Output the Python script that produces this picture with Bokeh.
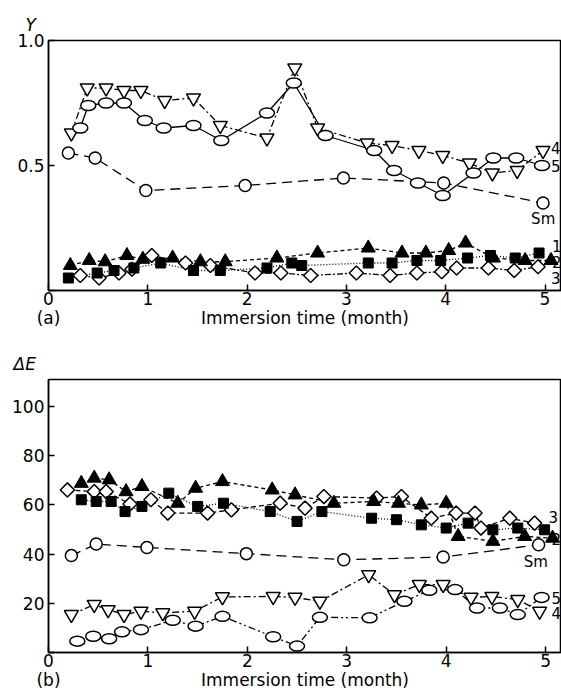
from bokeh.plotting import figure
from bokeh.layouts import column
from bokeh.models import Label, FixedTicker, Range1d, LinearAxis
from bokeh.embed import file_html
from bokeh.resources import INLINE

# ---------------- data: panel (a) Y ----------------
a_sm_t = [0.2, 0.47, 0.98, 1.98, 2.97, 3.98, 4.98]
a_sm_y = [0.55, 0.53, 0.40, 0.42, 0.45, 0.43, 0.35]

a_s5_t = [0.32, 0.40, 0.58, 0.76, 0.97, 1.16, 1.46, 1.74, 2.2, 2.47, 2.79, 3.28, 3.48, 3.72, 3.97, 4.28, 4.48, 4.71, 4.97]
a_s5_y = [0.65, 0.74, 0.75, 0.75, 0.68, 0.65, 0.66, 0.60, 0.71, 0.83, 0.62, 0.56, 0.48, 0.43, 0.38, 0.47, 0.53, 0.53, 0.50]

a_s4_t = [0.23, 0.39, 0.58, 0.76, 0.93, 1.17, 1.46, 1.73, 2.2, 2.48, 2.71, 3.21, 3.46, 3.73, 3.97, 4.24, 4.47, 4.72, 4.98]
a_s4_y = [0.63, 0.81, 0.81, 0.80, 0.80, 0.76, 0.77, 0.66, 0.61, 0.89, 0.65, 0.59, 0.58, 0.56, 0.54, 0.51, 0.47, 0.48, 0.56]

a_s1_t = [0.22, 0.41, 0.57, 0.79, 0.95, 1.25, 1.53, 1.78, 2.30, 2.71, 3.22, 3.56, 3.80, 4.03, 4.20, 4.48, 4.80, 5.06]
a_s1_y = [0.10, 0.12, 0.115, 0.14, 0.125, 0.13, 0.115, 0.115, 0.13, 0.15, 0.17, 0.15, 0.15, 0.16, 0.19, 0.13, 0.12, 0.12]

a_s2_t = [0.2, 0.49, 0.66, 0.86, 1.13, 1.46, 1.73, 2.2, 2.45, 2.55, 3.22, 3.46, 3.71, 3.95, 4.22, 4.45, 4.70, 4.94]
a_s2_y = [0.05, 0.07, 0.08, 0.09, 0.11, 0.08, 0.08, 0.09, 0.11, 0.10, 0.11, 0.11, 0.12, 0.12, 0.13, 0.14, 0.13, 0.15]

a_s3_t = [0.32, 0.51, 0.71, 0.84, 1.04, 1.38, 1.63, 2.08, 2.34, 2.64, 3.10, 3.44, 3.71, 3.96, 4.11, 4.43, 4.69, 4.93]
a_s3_y = [0.06, 0.05, 0.07, 0.085, 0.14, 0.11, 0.10, 0.07, 0.07, 0.06, 0.07, 0.06, 0.07, 0.075, 0.09, 0.09, 0.08, 0.095]

# ---------------- data: panel (b) delta E ----------------
b_sm_t = [0.23, 0.48, 0.99, 1.99, 2.97, 3.97, 4.93]
b_sm_e = [39.4, 44.1, 42.7, 40.2, 37.7, 38.8, 43.8]

b_s5_t = [0.29, 0.45, 0.61, 0.74, 0.93, 1.25, 1.48, 1.75, 2.26, 2.50, 2.73, 3.23, 3.58, 3.83, 4.09, 4.31, 4.54, 4.72, 4.96]
b_s5_e = [4.6, 6.6, 5.6, 8.4, 9.3, 13.1, 10.7, 14.7, 6.4, 2.6, 14.3, 14.1, 20.8, 25.3, 25.6, 18.1, 18.1, 15.4, 22.4]

b_s4_t = [0.23, 0.46, 0.60, 0.76, 0.93, 1.15, 1.47, 1.75, 2.26, 2.48, 2.73, 3.22, 3.48, 3.73, 3.97, 4.25, 4.46, 4.72, 4.94]
b_s4_e = [15.4, 19.5, 17.4, 15.4, 16.8, 16.1, 16.8, 22.6, 22.8, 22.4, 20.8, 31.6, 23.5, 27.6, 27.6, 22.4, 22.8, 21.5, 16.8]

b_s1_t = [0.33, 0.46, 0.61, 0.78, 0.94, 1.30, 1.48, 1.75, 2.25, 2.48, 2.87, 3.27, 3.52, 3.75, 4.00, 4.12, 4.47, 4.79, 5.07]
b_s1_e = [68.8, 70.9, 70.2, 65.4, 67.5, 60.7, 66.8, 69.5, 66.1, 64.1, 60.7, 61.4, 60.7, 60.0, 60.7, 47.2, 45.2, 47.2, 46.5]

b_s2_t = [0.33, 0.48, 0.63, 0.77, 0.94, 1.21, 1.50, 1.76, 2.23, 2.50, 2.75, 3.25, 3.50, 3.75, 4.00, 4.22, 4.47, 4.72, 4.99]
b_s2_e = [62.1, 61.4, 61.4, 57.3, 59.4, 64.8, 59.4, 60.7, 57.3, 53.3, 57.3, 54.6, 54.0, 51.9, 50.6, 52.6, 49.9, 50.6, 49.9]

b_s3_t = [0.19, 0.46, 0.58, 0.82, 1.03, 1.20, 1.60, 1.84, 2.33, 2.58, 2.77, 3.30, 3.55, 3.85, 4.10, 4.29, 4.35, 4.64, 4.89]
b_s3_e = [66.1, 65.4, 65.4, 60.4, 62.1, 56.7, 56.7, 58.0, 60.7, 58.7, 63.4, 62.8, 63.4, 54.6, 56.7, 56.7, 50.6, 54.6, 52.6]

x_ticks = [0, 1, 2, 3, 4, 5]
a_y_ticks = [0, 0.5, 1.0]
b_y_ticks = [0, 20, 40, 60, 80, 100]
x_label = "Immersion time (month)"

FONT = "DejaVu Sans"


def style(p, yticks, overrides, panel_tag):
    p.outline_line_color = "black"
    p.outline_line_width = 1.5
    p.xgrid.visible = False
    p.ygrid.visible = False
    for ax in (p.xaxis[0], p.yaxis[0]):
        ax.axis_line_width = 1.5
        ax.major_tick_line_width = 1.5
        ax.major_tick_in = 6
        ax.major_tick_out = 0
        ax.minor_tick_line_color = None
        ax.major_label_text_font = FONT
        ax.major_label_text_font_size = "17px"
        ax.major_label_text_color = "black"
        ax.major_label_standoff = 1
    p.yaxis[0].major_label_standoff = 4
    p.xaxis[0].ticker = FixedTicker(ticks=x_ticks)
    p.yaxis[0].ticker = FixedTicker(ticks=yticks)
    p.yaxis[0].major_label_overrides = overrides
    # second row under the tick labels: panel tag + axis title
    p.extra_x_ranges = {"lab": Range1d(0, 1)}
    lab = LinearAxis(x_range_name="lab", ticker=FixedTicker(ticks=[0, 0.5]),
                     major_label_overrides={0: panel_tag, 0.5: x_label})
    lab.axis_line_color = None
    lab.major_tick_line_color = None
    lab.minor_tick_line_color = None
    lab.major_tick_in = 0
    lab.major_tick_out = 0
    lab.major_label_standoff = 0
    lab.major_label_text_font = FONT
    lab.major_label_text_font_size = "17px"
    lab.major_label_text_color = "black"
    p.add_layout(lab, "below")


def sym(p, t, v, kind, size):
    if kind == "ellipse":
        p.ellipse(x=t, y=v, width=15, height=10, width_units="screen", height_units="screen",
                  fill_color="white", line_color="black", line_width=1.5)
    elif kind == "diamond":
        p.scatter(t, v, marker="square", angle=0.7854, size=size, fill_color="white",
                  line_color="black", line_width=1.5)
    elif kind in ("triangle", "square"):
        p.scatter(t, v, marker=kind, size=size, fill_color="black", line_color="black", line_width=1)
    else:
        p.scatter(t, v, marker=kind, size=size, fill_color="white", line_color="black", line_width=1.5)


def txt(p, x, y, s, size="15px"):
    p.add_layout(Label(x=x, y=y, text=s, text_font=FONT, text_font_size=size,
                       text_align="left", text_baseline="middle", text_color="black"))


def ytitle(p, s, offset, standoff):
    p.title.text = s
    p.title.align = "left"
    p.title.offset = offset
    p.title.standoff = standoff
    p.title.text_font = FONT
    p.title.text_font_size = "17px"
    p.title.text_font_style = "italic"
    p.title.text_color = "black"


# ---------------- panel (a) ----------------
pa = figure(width=561, height=336, output_backend="svg", toolbar_location=None,
            x_range=Range1d(0, 5.166), y_range=Range1d(0, 1.0),
            min_border_left=48, min_border_right=0, min_border_top=40, min_border_bottom=46)
style(pa, a_y_ticks, {0: "", 0.5: "0.5", 1: "1.0"}, "(a)")
ytitle(pa, "Y", -23, 11)

pa.line(a_s1_t, a_s1_y, line_color="black", line_width=1.3, line_dash="4 3")
pa.line(a_s2_t, a_s2_y, line_color="black", line_width=1.3, line_dash="1 2")
pa.line(a_s3_t, a_s3_y, line_color="black", line_width=1.3, line_dash="6 2 2 2")
pa.line(a_sm_t, a_sm_y, line_color="black", line_width=1.3, line_dash="10 6")
pa.line(a_s4_t, a_s4_y, line_color="black", line_width=1.3, line_dash="7 3 2 3")
pa.line(a_s5_t, a_s5_y, line_color="black", line_width=1.3)

sym(pa, a_s3_t, a_s3_y, "diamond", 10)
sym(pa, a_s2_t, a_s2_y, "square", 10)
sym(pa, a_s1_t, a_s1_y, "triangle", 14)
sym(pa, a_sm_t, a_sm_y, "circle", 12)
sym(pa, a_s4_t, a_s4_y, "inverted_triangle", 14)
sym(pa, a_s5_t, a_s5_y, "ellipse", 0)

txt(pa, 5.06, 0.57, "4")
txt(pa, 5.06, 0.50, "5")
txt(pa, 4.86, 0.285, "Sm")
txt(pa, 5.07, 0.18, "1")
txt(pa, 5.07, 0.115, "2")
txt(pa, 5.06, 0.05, "3")

# ---------------- panel (b) ----------------
pb = figure(width=561, height=358, output_backend="svg", toolbar_location=None,
            x_range=Range1d(0, 5.16), y_range=Range1d(0, 111),
            min_border_left=45, min_border_right=0, min_border_top=43, min_border_bottom=42)
style(pb, b_y_ticks, {0: ""}, "(b)")
ytitle(pb, "\u0394E", -35, 11)

pb.line(b_s1_t, b_s1_e, line_color="black", line_width=1.3, line_dash="4 3")
pb.line(b_s2_t, b_s2_e, line_color="black", line_width=1.3, line_dash="1 2")
pb.line(b_s3_t, b_s3_e, line_color="black", line_width=1.3, line_dash="5 3")
pb.line(b_sm_t, b_sm_e, line_color="black", line_width=1.3, line_dash="10 6")
pb.line(b_s4_t, b_s4_e, line_color="black", line_width=1.3, line_dash="7 3 2 3")
pb.line(b_s5_t, b_s5_e, line_color="black", line_width=1.3, line_dash="7 3 2 3 2 3")

sym(pb, b_s3_t, b_s3_e, "diamond", 10)
sym(pb, b_s2_t, b_s2_e, "square", 10)
sym(pb, b_s1_t, b_s1_e, "triangle", 14)
sym(pb, b_sm_t, b_sm_e, "circle", 12)
sym(pb, b_s4_t, b_s4_e, "inverted_triangle", 14)
sym(pb, b_s5_t, b_s5_e, "ellipse", 0)

txt(pb, 5.03, 55.0, "3")
txt(pb, 5.06, 46.0, "2")
txt(pb, 4.78, 37.0, "Sm")
txt(pb, 5.06, 22.3, "5")
txt(pb, 5.06, 16.0, "4")

layout = column(pa, pb, spacing=0)
open("out.html", "w").write(file_html(layout, INLINE))
